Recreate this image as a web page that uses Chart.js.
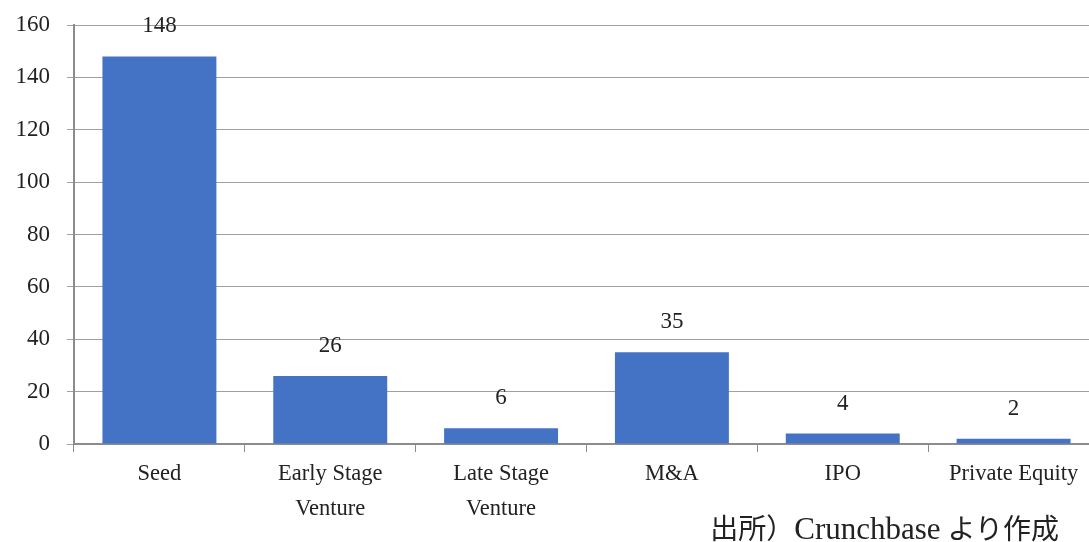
<!DOCTYPE html>
<html><head><meta charset="utf-8">
<script src="https://cdn.jsdelivr.net/npm/chart.js@4/dist/chart.umd.min.js"></script>
<style>
html,body{margin:0;padding:0;background:#fff;overflow:hidden;width:1089px;height:542px;}
#wrap{position:relative;width:1100px;height:542px;}
#src{position:absolute;right:41px;top:513px;line-height:32px;font-family:"Liberation Serif","Noto Sans CJK JP",serif;font-size:28px;color:#222;white-space:nowrap;}
#src .lat{font-size:31px;}
</style></head>
<body>
<div id="wrap"><canvas id="c" width="1100" height="542"></canvas>
<div id="src">出所）<span class="lat">Crunchbase</span> より作成</div></div>
<script>
const categories = [["Seed"], ["Early Stage", "Venture"], ["Late Stage", "Venture"], ["M&A"], ["IPO"], ["Private Equity"]];
const values = [148, 26, 6, 35, 4, 2];
const yTicks = [0, 20, 40, 60, 80, 100, 120, 140, 160];

const FONT = "'Liberation Serif', 'DejaVu Serif', serif";
const labelPlugin = {
  id: 'valueLabels',
  afterDatasetsDraw(chart) {
    const ctx = chart.ctx;
    const meta = chart.getDatasetMeta(0);
    ctx.save();
    ctx.font = "23px " + FONT;
    ctx.fillStyle = '#222';
    ctx.textAlign = 'center';
    ctx.textBaseline = 'alphabetic';
    meta.data.forEach((bar, i) => {
      ctx.fillText(String(values[i]), bar.x, bar.y - 24);
    });
    ctx.restore();
  }
};

new Chart(document.getElementById('c'), {
  type: 'bar',
  data: {
    labels: categories,
    datasets: [{ data: values, backgroundColor: '#4472C4', borderWidth: 0, barPercentage: 0.667, categoryPercentage: 1 }]
  },
  options: {
    responsive: false,
    animation: false,
    layout: { padding: { top: 25, left: 0, right: 1, bottom: 0 } },
    plugins: { legend: { display: false }, tooltip: { enabled: false } },
    scales: {
      x: {
        afterFit(s) { s.height = 98; s.paddingLeft = 0; s.paddingRight = 0; },
        grid: { drawOnChartArea: false, drawTicks: true, tickLength: 8, offset: true, color: '#8c8c8c', lineWidth: 1 },
        border: { display: true, color: '#8c8c8c', width: 2 },
        ticks: { color: '#222', font: { family: FONT, size: 22.5, lineHeight: 1.556 }, padding: 5, maxRotation: 0, autoSkip: false }
      },
      y: {
        min: 0, max: 160,
        afterFit(s) { s.width = 74; s.paddingTop = 0; s.paddingBottom = 0; },
        afterBuildTicks(s) { s.ticks = yTicks.map(v => ({ value: v })); },
        grid: { color: '#a0a0a0', lineWidth: 1, tickLength: 7 },
        border: { display: true, color: '#8c8c8c', width: 2 },
        ticks: { color: '#222', font: { family: FONT, size: 23 }, padding: 17 }
      }
    }
  },
  plugins: [labelPlugin]
});
</script>
</body></html>
